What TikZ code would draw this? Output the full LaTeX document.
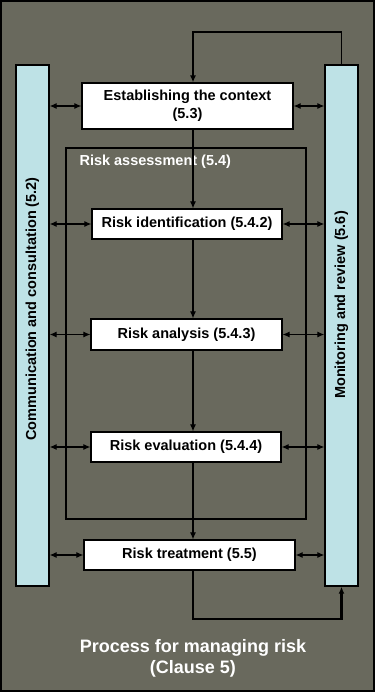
\documentclass[tikz,border=0pt]{standalone}
\usepackage{fontspec}
\setmainfont{Liberation Sans}
\usepackage{xcolor}
\usepackage{tikz}
\usetikzlibrary{arrows.meta, positioning}

\definecolor{panelgray}{RGB}{105,105,93}
\definecolor{barblue}{RGB}{190,226,230}

\begin{document}
\begin{tikzpicture}[
            x=1pt, y=-1pt,
            >={Latex[length=7pt,width=6pt]},
            every node/.style={font=\fontsize{14.5}{17.5}\selectfont\bfseries},
            box/.style={rectangle, draw, line width=1.2pt, fill=white, inner sep=0pt, align=center, minimum height=30pt},
            bar/.style={rectangle, draw, line width=1.4pt, fill=barblue, minimum width=33pt, minimum height=521pt, inner sep=0pt},
            frame/.style={rectangle, draw, line width=1.2pt, inner sep=0pt},
            link/.style={line width=1.1pt, <->},
            flow/.style={line width=1.1pt, ->},
            loopline/.style={line width=1.8pt, ->},
            heavyloop/.style={line width=2.8pt, ->}
        ]
            \useasboundingbox (0,0) rectangle (375,692);
            \draw[fill=panelgray, line width=2pt] (1,1) rectangle (374,691);

            % side bars
            \node[bar] (comm) at (32.5,325.5) {};
            \node[bar] (mon) at (341.5,325.5) {};
            \node[rotate=90] (commtext) at (32.5,309) {Communication and consultation (5.2)};
            \node[rotate=90] (montext) at (341.5,305) {Monitoring and review (5.6)};

            % risk assessment frame
            \node[frame, minimum width=240pt, minimum height=371pt] (assess) at (186,333.5) {};
            \node[anchor=west, text=white] (assesslabel) at (76,162) {Risk assessment (5.4)};

            % process steps
            \node[box, minimum width=211pt, minimum height=46pt] (ctx) at (187.5,106) {Establishing the context\\(5.3)};
            \node[box, minimum width=190pt] (ident) at (187,224) {Risk identification (5.4.2)};
            \node[box, minimum width=191pt, minimum height=31pt] (analysis) at (186.5,334.5) {Risk analysis (5.4.3)};
            \node[box, minimum width=190pt] (eval) at (186,447) {Risk evaluation (5.4.4)};
            \node[box, minimum width=211pt] (treat) at (189.5,555) {Risk treatment (5.5)};

            \coordinate (spine) at (193,0);
            \coordinate (toploop) at (193,32);
            \coordinate (botloop) at (193,619);

            \draw[flow] (ctx.south -| spine) -- (ident.north -| spine);
            \draw[flow] (ident.south -| spine) -- (analysis.north -| spine);
            \draw[flow] (analysis.south -| spine) -- (eval.north -| spine);
            \draw[flow] (eval.south -| spine) -- (treat.north -| spine);

            \draw[link] (comm.east |- ctx) -- (ctx.west);
            \draw[link] (comm.east |- ident) -- (ident.west);
            \draw[link] (comm.east |- analysis) -- (analysis.west);
            \draw[link] (comm.east |- eval) -- (eval.west);
            \draw[link] (comm.east |- treat) -- (treat.west);
            \draw[link] (ctx.east) -- (mon.west |- ctx);
            \draw[link] (ident.east) -- (mon.west |- ident);
            \draw[link] (analysis.east) -- (mon.west |- analysis);
            \draw[link] (eval.east) -- (mon.west |- eval);
            \draw[link] (treat.east) -- (mon.west |- treat);

            % feedback loops
            \draw[loopline] (mon.north) |- (toploop) -- (ctx.north -| spine);
            \draw[heavyloop] (treat.south -| spine) -- (botloop) -| (mon.south);

            \node[text=white, align=center, font=\fontsize{18}{21}\selectfont\bfseries] (title) at (193,658) {Process for managing risk\\(Clause 5)};
        \end{tikzpicture}
\end{document}
